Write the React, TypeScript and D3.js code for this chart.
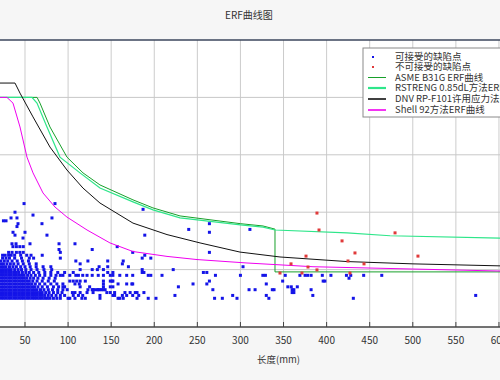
import React from 'react';
import * as d3 from 'd3';

const chartTitle = 'ERF曲线图';
const xAxisTitle = '长度(mm)';
const xTicks = [50, 100, 150, 200, 250, 300, 350, 400, 450, 500, 550, 600];
const yGridValues = [0.2, 0.4, 0.6, 0.8];

const legendLabels = [
  '可接受的缺陷点',
  '不可接受的缺陷点',
  'ASME B31G ERF曲线',
  'RSTRENG 0.85dL方法ERF曲线',
  'DNV RP-F101许用应力法ERF曲线',
  'Shell 92方法ERF曲线',
];

// curves: [length mm, d/t]
const asmeCurve: [number, number][] = [
  [21, 0.8], [64, 0.8], [67.4, 0.78], [79, 0.697], [98.7, 0.592], [117.3, 0.537],
  [137, 0.495], [175.3, 0.443], [198.5, 0.415], [229.9, 0.387], [300, 0.36],
  [326.2, 0.352], [340.1, 0.341], [340.1, 0.192], [601.2, 0.192],
];
const rstrengCurve: [number, number][] = [
  [21, 0.8], [58.1, 0.8], [63.9, 0.78], [75.5, 0.697], [90.6, 0.592], [113.8, 0.537],
  [137, 0.484], [175.3, 0.436], [198.5, 0.408], [229.9, 0.38], [300, 0.356],
  [326.2, 0.348], [340.1, 0.338], [423.7, 0.328], [473.6, 0.318], [601.2, 0.31],
];
const dnvCurve: [number, number][] = [
  [21, 0.85], [38.4, 0.85], [44.2, 0.815], [59.3, 0.732], [79, 0.627], [98.7, 0.547],
  [117.3, 0.484], [137, 0.432], [175.3, 0.362], [214.8, 0.322], [253.1, 0.293],
  [299.5, 0.261], [345.9, 0.244], [423.7, 0.228], [500.2, 0.22], [601.2, 0.213],
];
const shellCurve: [number, number][] = [
  [21, 0.8], [29.1, 0.8], [36.1, 0.78], [44.2, 0.697], [52.3, 0.592], [59.3, 0.537],
  [70.9, 0.467], [84.8, 0.418], [98.7, 0.383], [122, 0.338], [148.6, 0.293],
  [175.3, 0.263], [214.8, 0.246], [249.6, 0.235], [307.6, 0.223], [384.2, 0.21],
  [500.2, 0.202], [601.2, 0.195],
];

// acceptable defects (blue): scattered points [length, d/t]
const acceptableScattered: [number, number][] = [
  [48.9, 0.43], [84.8, 0.43], [38.4, 0.4], [59.3, 0.39], [33.8, 0.38], [40.7, 0.38],
  [81.3, 0.38], [25, 0.37], [28, 0.37], [41.9, 0.36], [69.7, 0.36], [40.7, 0.35],
  [36.1, 0.33], [50, 0.33], [38.4, 0.32], [75.5, 0.32], [47.7, 0.31], [34.9, 0.29],
  [39.6, 0.29], [55.8, 0.29], [89.5, 0.29], [108, 0.29], [36, 0.28], [40, 0.28],
  [44, 0.28], [48, 0.28], [157, 0.28], [89.5, 0.27], [128, 0.27], [31, 0.26],
  [35, 0.26], [40, 0.26], [44, 0.26], [48, 0.26], [91, 0.26], [175, 0.26], [264, 0.26],
  [187, 0.41], [240, 0.34], [264, 0.36], [264, 0.33], [189, 0.32], [311, 0.34],
  [189, 0.25], [426, 0.17],
];

// acceptable defects (blue): rows of equal d/t
const acceptableRowRatios = [0.25, 0.24, 0.23, 0.22, 0.21, 0.2, 0.19, 0.18, 0.16, 0.15, 0.14, 0.13, 0.12, 0.11, 0.1, 0.17];
const acceptableRowLengths: number[][] = [
  [24, 27, 31, 34, 38, 45, 52, 57, 70],
  [24, 28, 32, 38, 46, 55, 60, 91, 186, 196],
  [22, 26, 30, 35, 41, 47, 54, 109, 123, 146, 164],
  [22, 25, 29, 33, 37, 42, 48, 55, 63, 114, 163],
  [22, 25, 28, 32, 36, 40, 45, 50, 56, 63, 71, 80, 136, 146, 170, 303],
  [22, 25, 28, 31, 34, 38, 42, 46, 51, 57, 64, 72, 81, 114, 128, 134, 141, 186, 222],
  [22, 25, 28, 31, 34, 37, 40, 43, 47, 51, 55, 60, 66, 73, 80, 88, 96, 106, 146, 152, 186, 188, 257, 261],
  [22, 25, 28, 31, 34, 37, 40, 43, 46, 49, 53, 57, 62, 67, 73, 80, 86, 91, 94, 102, 109, 112, 117, 122, 128, 135, 141, 149, 152, 160, 168, 175, 193, 196, 209, 271, 300, 326, 329, 352, 369, 375, 378, 382, 395, 405, 423, 428, 443, 464],
  [22, 25, 28, 31, 34, 37, 40, 43, 46, 49, 52, 55, 59, 64, 70, 77, 84, 102, 106, 110, 114, 120, 141, 149, 151, 152, 264, 349, 396, 398],
  [22, 25, 28, 31, 34, 37, 40, 43, 46, 49, 52, 55, 58, 62, 67, 73, 80, 87, 94, 108, 113, 141, 158, 168, 174, 175, 245, 261, 330],
  [22, 25, 28, 31, 34, 37, 40, 43, 46, 49, 52, 55, 58, 61, 65, 70, 76, 83, 89, 94, 96, 114, 125, 141, 149, 152, 228, 355, 359, 366],
  [22, 25, 28, 31, 34, 37, 40, 43, 46, 49, 52, 55, 58, 61, 64, 68, 72, 77, 82, 88, 94, 99, 123, 128, 129, 131, 134, 135, 137, 139, 141, 143, 268, 310, 317, 337, 339, 360, 362, 382],
  [22, 25, 28, 31, 34, 37, 40, 43, 46, 49, 52, 55, 58, 61, 64, 67, 70, 74, 78, 83, 88, 93, 105, 108, 114, 122, 129, 145, 149, 154, 166, 172, 178, 180, 188, 360, 362],
  [22, 25, 28, 31, 34, 37, 40, 43, 46, 49, 52, 55, 58, 61, 64, 67, 70, 73, 77, 81, 86, 91, 96, 106, 112, 117, 137, 152, 154, 163, 168, 175, 182, 224, 291, 330, 384, 573],
  [22, 25, 28, 31, 34, 37, 40, 43, 46, 49, 52, 55, 58, 61, 64, 67, 70, 73, 76, 79, 83, 87, 91, 100, 102, 108, 116, 120, 137, 158, 160, 164, 180, 193, 202, 270, 279, 296, 333, 431],
  [22, 25, 28, 31, 34, 37, 40, 43, 46, 49, 52, 56, 60, 65, 71, 78, 85],
];

// unacceptable defects (red)
const unacceptablePoints: [number, number][] = [
  [388.8, 0.397], [391.2, 0.338], [417.9, 0.3], [432.9, 0.258], [376.1, 0.247],
  [424.8, 0.23], [443.4, 0.22], [358.7, 0.22], [378.4, 0.209], [388.8, 0.199],
  [345.9, 0.188], [371.4, 0.188], [427.1, 0.188], [479.4, 0.328], [506, 0.247],
];

const W = 500;
const H = 380;
const plotTop = 40;
const plotBottom = 327;

export default function App() {
  const x = d3.scaleLinear().domain([21, 601.2]).range([0, 500]);
  const y = d3.scaleLinear().domain([0, 1]).range([plotBottom, plotTop]);
  const line = d3.line<[number, number]>().x((d) => x(d[0])).y((d) => y(d[1]));

  const bluePts: [number, number][] = [...acceptableScattered];
  acceptableRowLengths.forEach((xs, i) => xs.forEach((v) => bluePts.push([v, acceptableRowRatios[i]])));

  const font = '"Noto Sans CJK SC", "Noto Sans", sans-serif';
  const legendX = 363;
  const legendRowY = [57, 67, 77.5, 88, 99, 110];
  const curveStyles = [
    { color: '#17a02a', width: 1 },
    { color: '#2ee68a', width: 2.2 },
    { color: '#111111', width: 1.6 },
    { color: '#f000f0', width: 1.6 },
  ];

  return (
    <svg width={W} height={H} style={{ position: 'absolute', left: 0, top: 0 }} fontFamily={font}>
      <defs>
        <clipPath id="plotClip">
          <rect x={0} y={plotTop} width={W} height={plotBottom - plotTop} />
        </clipPath>
      </defs>
      <rect x={0} y={0} width={W} height={H} fill="#f6f6f6" />
      <rect x={0} y={plotTop} width={W} height={plotBottom - plotTop} fill="#ffffff" />
      <text x={249} y={19} fontSize={10} textAnchor="middle" fill="#333">{chartTitle}</text>

      <g>
        {xTicks.map((t) => (
          <line key={'gx' + t} x1={x(t)} x2={x(t)} y1={plotTop} y2={plotBottom} stroke="#cccccc" strokeWidth={1} />
        ))}
        {yGridValues.map((t) => (
          <line key={'gy' + t} x1={0} x2={W} y1={y(t)} y2={y(t)} stroke="#c8c8c8" strokeWidth={1} />
        ))}
      </g>

      <g clipPath="url(#plotClip)">
        {bluePts.map((p, i) => (
          <rect key={'b' + i} x={x(p[0]) - 1.5} y={y(p[1]) - 1.5} width={3} height={3} fill="#1414e8" />
        ))}
        {[asmeCurve, rstrengCurve, dnvCurve, shellCurve].map((c, i) => (
          <path key={'c' + i} d={line(c) || ''} fill="none" stroke={curveStyles[i].color} strokeWidth={i === 1 ? 1.2 : 1} />
        ))}
        {unacceptablePoints.map((p, i) => (
          <rect key={'r' + i} x={x(p[0]) - 1.5} y={y(p[1]) - 1.5} width={3} height={3} fill="#e03a3a" />
        ))}
      </g>

      <line x1={0} x2={W} y1={plotTop} y2={plotTop} stroke="#3b465c" strokeWidth={1.5} />
      <line x1={0} x2={W} y1={plotBottom} y2={plotBottom} stroke="#444" strokeWidth={1.5} />
      {xTicks.map((t) => (
        <g key={'t' + t}>
          <line x1={x(t)} x2={x(t)} y1={plotBottom - 5} y2={plotBottom} stroke="#444" strokeWidth={1} />
          <text x={x(t)} y={344} fontSize={10} textAnchor="middle" fill="#333">{t}</text>
        </g>
      ))}
      <text x={257} y={363} fontSize={9.5} fill="#333">{xAxisTitle}</text>

      <g>
        <rect x={legendX} y={48} width={160} height={69} fill="#ffffff" stroke="#8a8a8a" strokeWidth={1} />
        <rect x={372} y={legendRowY[0] - 1} width={2} height={2} fill="#1414e8" />
        <rect x={372} y={legendRowY[1] - 1} width={2} height={2} fill="#e03a3a" />
        {curveStyles.map((s, i) => (
          <line key={'ll' + i} x1={368} x2={386} y1={legendRowY[i + 2]} y2={legendRowY[i + 2]} stroke={s.color} strokeWidth={s.width} />
        ))}
        {legendLabels.map((l, i) => (
          <text key={'lt' + i} x={395} y={legendRowY[i] + 3.3} fontSize={9.5} fill="#333">{l}</text>
        ))}
      </g>
    </svg>
  );
}
